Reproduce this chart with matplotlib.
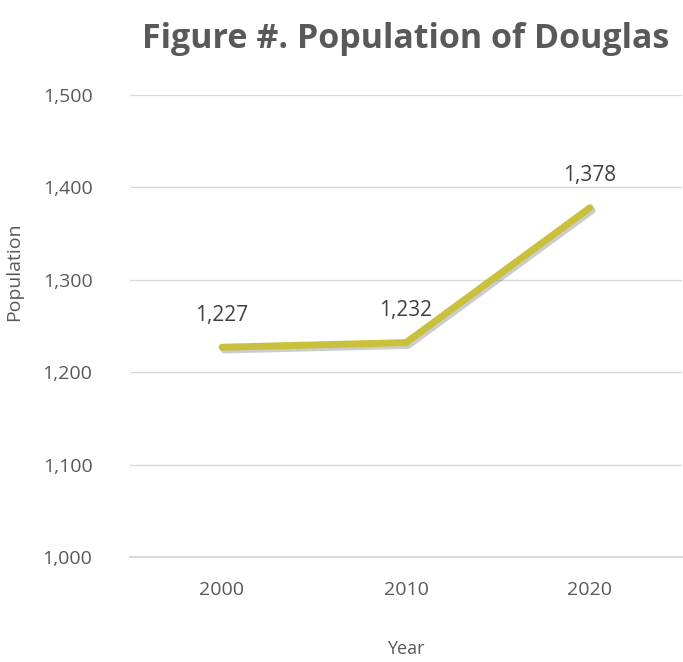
import matplotlib
matplotlib.use("Agg")
import matplotlib.pyplot as plt
import matplotlib.patheffects as pe
from matplotlib.ticker import FuncFormatter

years = ["2000", "2010", "2020"]
population = [1227, 1232, 1378]
yticks = [1000, 1100, 1200, 1300, 1400, 1500]

plt.rcParams['font.family'] = ['Open Sans', 'DejaVu Sans']
txt = '#595959'

fig = plt.figure(figsize=(6.83, 6.62), dpi=100)
ax = fig.add_axes([130/683, 1-557/662, 552/683, (557-95)/662])

x = list(range(len(years)))
ax.plot(x, population, color='#C9C13C', lw=5, solid_capstyle='round', solid_joinstyle='round',
        path_effects=[pe.SimpleLineShadow(offset=(1.5, -2), alpha=0.2, shadow_color='black'), pe.Normal()],
        zorder=3)
for xi, v in zip(x, population):
    ax.annotate(f"{v:,}", (xi, v), xytext=(0, 23), textcoords='offset points',
                ha='center', va='center', fontsize=15, color='#404040')

ax.set_xlim(-0.5, 2.5)
ax.set_ylim(1000, 1500)
ax.set_yticks(yticks)
ax.yaxis.set_major_formatter(FuncFormatter(lambda v, p: f"{int(v):,}"))
ax.set_xticks(x)
ax.set_xticklabels(years)
ax.grid(axis='y', color='#D9D9D9', lw=1)
ax.set_axisbelow(True)
for s in ['top', 'right', 'left']:
    ax.spines[s].set_visible(False)
ax.spines['bottom'].set_color('#D9D9D9')
ax.spines['bottom'].set_linewidth(1.5)
ax.tick_params(length=0, colors=txt, labelsize=14)
ax.tick_params(axis='x', pad=17)
ax.tick_params(axis='y', pad=27)

ax.set_xlabel("Year", fontsize=13, color=txt, labelpad=30)
ax.set_ylabel("Population", fontsize=14, color=txt)
ax.yaxis.set_label_coords(-0.194, 0.617)
fig.text(406/683, 1-48/662, "Figure #. Population of Douglas", ha='center', va='baseline',
         fontsize=24.5, fontweight='bold', color='#595959')

fig.savefig("out.png", dpi=100)
